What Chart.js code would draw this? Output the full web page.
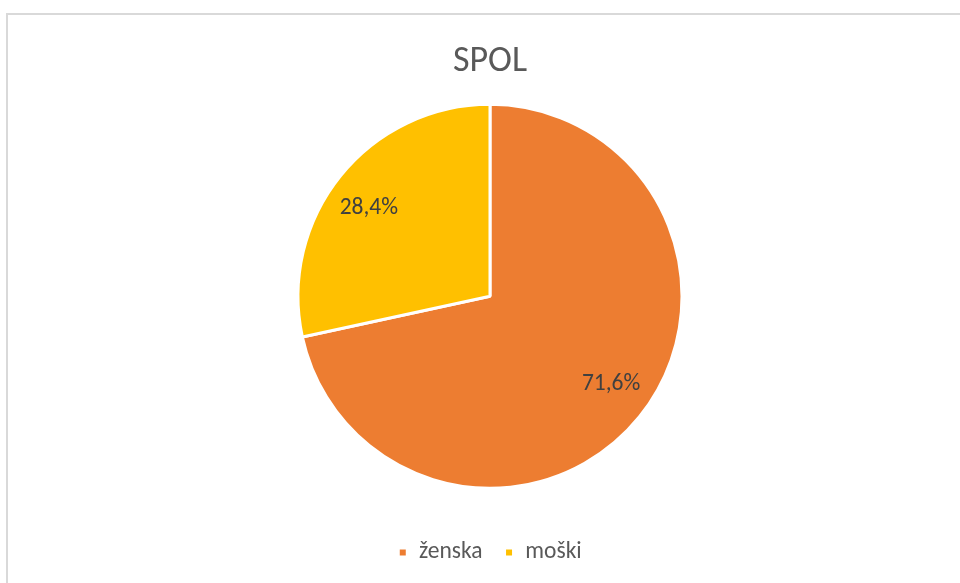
<!DOCTYPE html>
<html>
<head>
<meta charset="utf-8">
<script src="https://cdn.jsdelivr.net/npm/chart.js@4/dist/chart.umd.min.js"></script>
<style>
  html, body { margin: 0; padding: 0; background: #ffffff; overflow: hidden; }
  #wrap { position: relative; width: 960px; height: 583px; }
  #frame { position: absolute; left: 6px; top: 13px; width: 1000px; height: 1000px;
           border: 2px solid #d9d9d9; box-sizing: border-box; }
  #c { position: absolute; left: 0; top: 0; }
</style>
</head>
<body>
<div id="wrap">
  <div id="frame"></div>
  <canvas id="c" width="960" height="583"></canvas>
</div>
<script>
const chartTitle = 'SPOL';
const categories = ['ženska', 'moški'];
const values = [71.6, 28.4];
const valueLabels = ['71,6%', '28,4%'];
const colors = ['#ED7D31', '#FFC000'];

const FONT = 'Carlito, Lato, "Liberation Sans", sans-serif';

const pieLabels = {
  id: 'pieLabels',
  afterDatasetsDraw(chart) {
    const ctx = chart.ctx;
    const meta = chart.getDatasetMeta(0);
    ctx.save();
    ctx.font = '23.5px ' + FONT;
    ctx.fillStyle = '#404040';
    ctx.textAlign = 'center';
    ctx.textBaseline = 'middle';
    meta.data.forEach((arc, i) => {
      const p = arc.getProps(['x', 'y', 'startAngle', 'endAngle', 'outerRadius'], true);
      const mid = (p.startAngle + p.endAngle) / 2 - 0.05;
      const r = p.outerRadius * 0.78;
      ctx.fillText(valueLabels[i], p.x + Math.cos(mid) * r, p.y + Math.sin(mid) * r);
    });
    ctx.restore();
  }
};

new Chart(document.getElementById('c'), {
  type: 'pie',
  data: {
    labels: categories,
    datasets: [{
      data: values,
      backgroundColor: colors,
      borderColor: '#ffffff',
      borderWidth: 3,
      hoverOffset: 0
    }]
  },
  options: {
    responsive: false,
    animation: false,
    radius: 192,
    layout: { padding: { left: 20, right: 0, top: 0, bottom: 8.75 } },
    plugins: {
      tooltip: { enabled: false },
      title: {
        display: true,
        text: chartTitle,
        color: '#595959',
        font: { family: FONT, size: 36, weight: 'normal', lineHeight: 1.2 },
        padding: { top: 40.4, bottom: 21.4 }
      },
      legend: {
        position: 'bottom',
        title: { display: true, text: '', font: { size: 10, lineHeight: 1 }, padding: { top: 21.25, bottom: 0 } },
        labels: {
          color: '#595959',
          font: { family: FONT, size: 23.5 },
          boxWidth: 9,
          boxHeight: 9,
          padding: 22
        }
      }
    }
  },
  plugins: [pieLabels]
});
</script>
</body>
</html>
